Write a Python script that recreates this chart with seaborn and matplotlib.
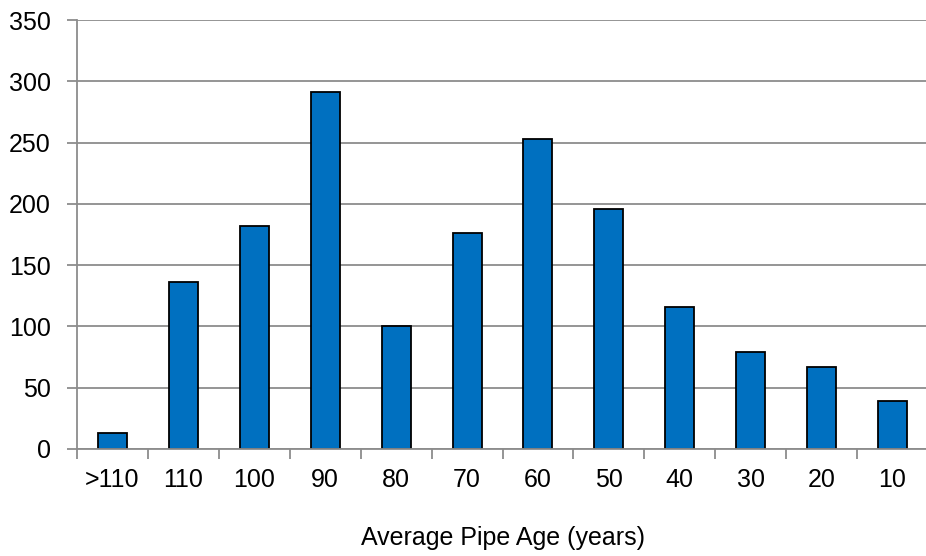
import seaborn as sns
import matplotlib.pyplot as plt
import numpy as np
import pandas as pd

ages = [">110", "110", "100", "90", "80", "70", "60", "50", "40", "30", "20", "10"]
counts = [13, 136, 182, 291, 100, 176, 253, 196, 116, 79, 67, 39]

df = pd.DataFrame({"age": ages, "count": counts})

sns.set_style("white")
plt.rcParams["font.family"] = ["Liberation Sans", "DejaVu Sans"]

fig = plt.figure(figsize=(9.26, 5.56), dpi=100)
ax = fig.add_axes([77 / 926, 107 / 556, 851 / 926, 429 / 556])

sns.barplot(data=df, x="age", y="count", order=ages, color="#0070C0",
            saturation=1, width=0.41, edgecolor="black", linewidth=1.3, ax=ax)

grid = "#8c8c8c"
ax.set_ylim(0, 350)
ax.set_yticks(np.arange(0, 351, 50))
ax.set_xlim(-0.5, len(ages) - 0.5)
ax.set_axisbelow(True)
ax.yaxis.grid(True, color=grid, linewidth=1.3)

ax.set_xticks(np.arange(-0.5, len(ages), 1), minor=True)
ax.tick_params(axis="x", which="minor", bottom=True, length=7, width=1.3, color=grid, direction="out")
ax.tick_params(axis="x", which="major", bottom=True, length=0, pad=14, labelsize=18, labelcolor="black")
ax.tick_params(axis="y", left=True, length=7, width=1.3, color=grid, direction="out",
               labelsize=18, pad=12, labelcolor="black")

for s in ["top", "right"]:
    ax.spines[s].set_visible(False)
for s in ["left", "bottom"]:
    ax.spines[s].set_color(grid)
    ax.spines[s].set_linewidth(1.3)

ax.set_ylabel("")
ax.set_xlabel("Average Pipe Age (years)", fontsize=18, labelpad=24, color="black")

fig.savefig("out.png", dpi=100)
